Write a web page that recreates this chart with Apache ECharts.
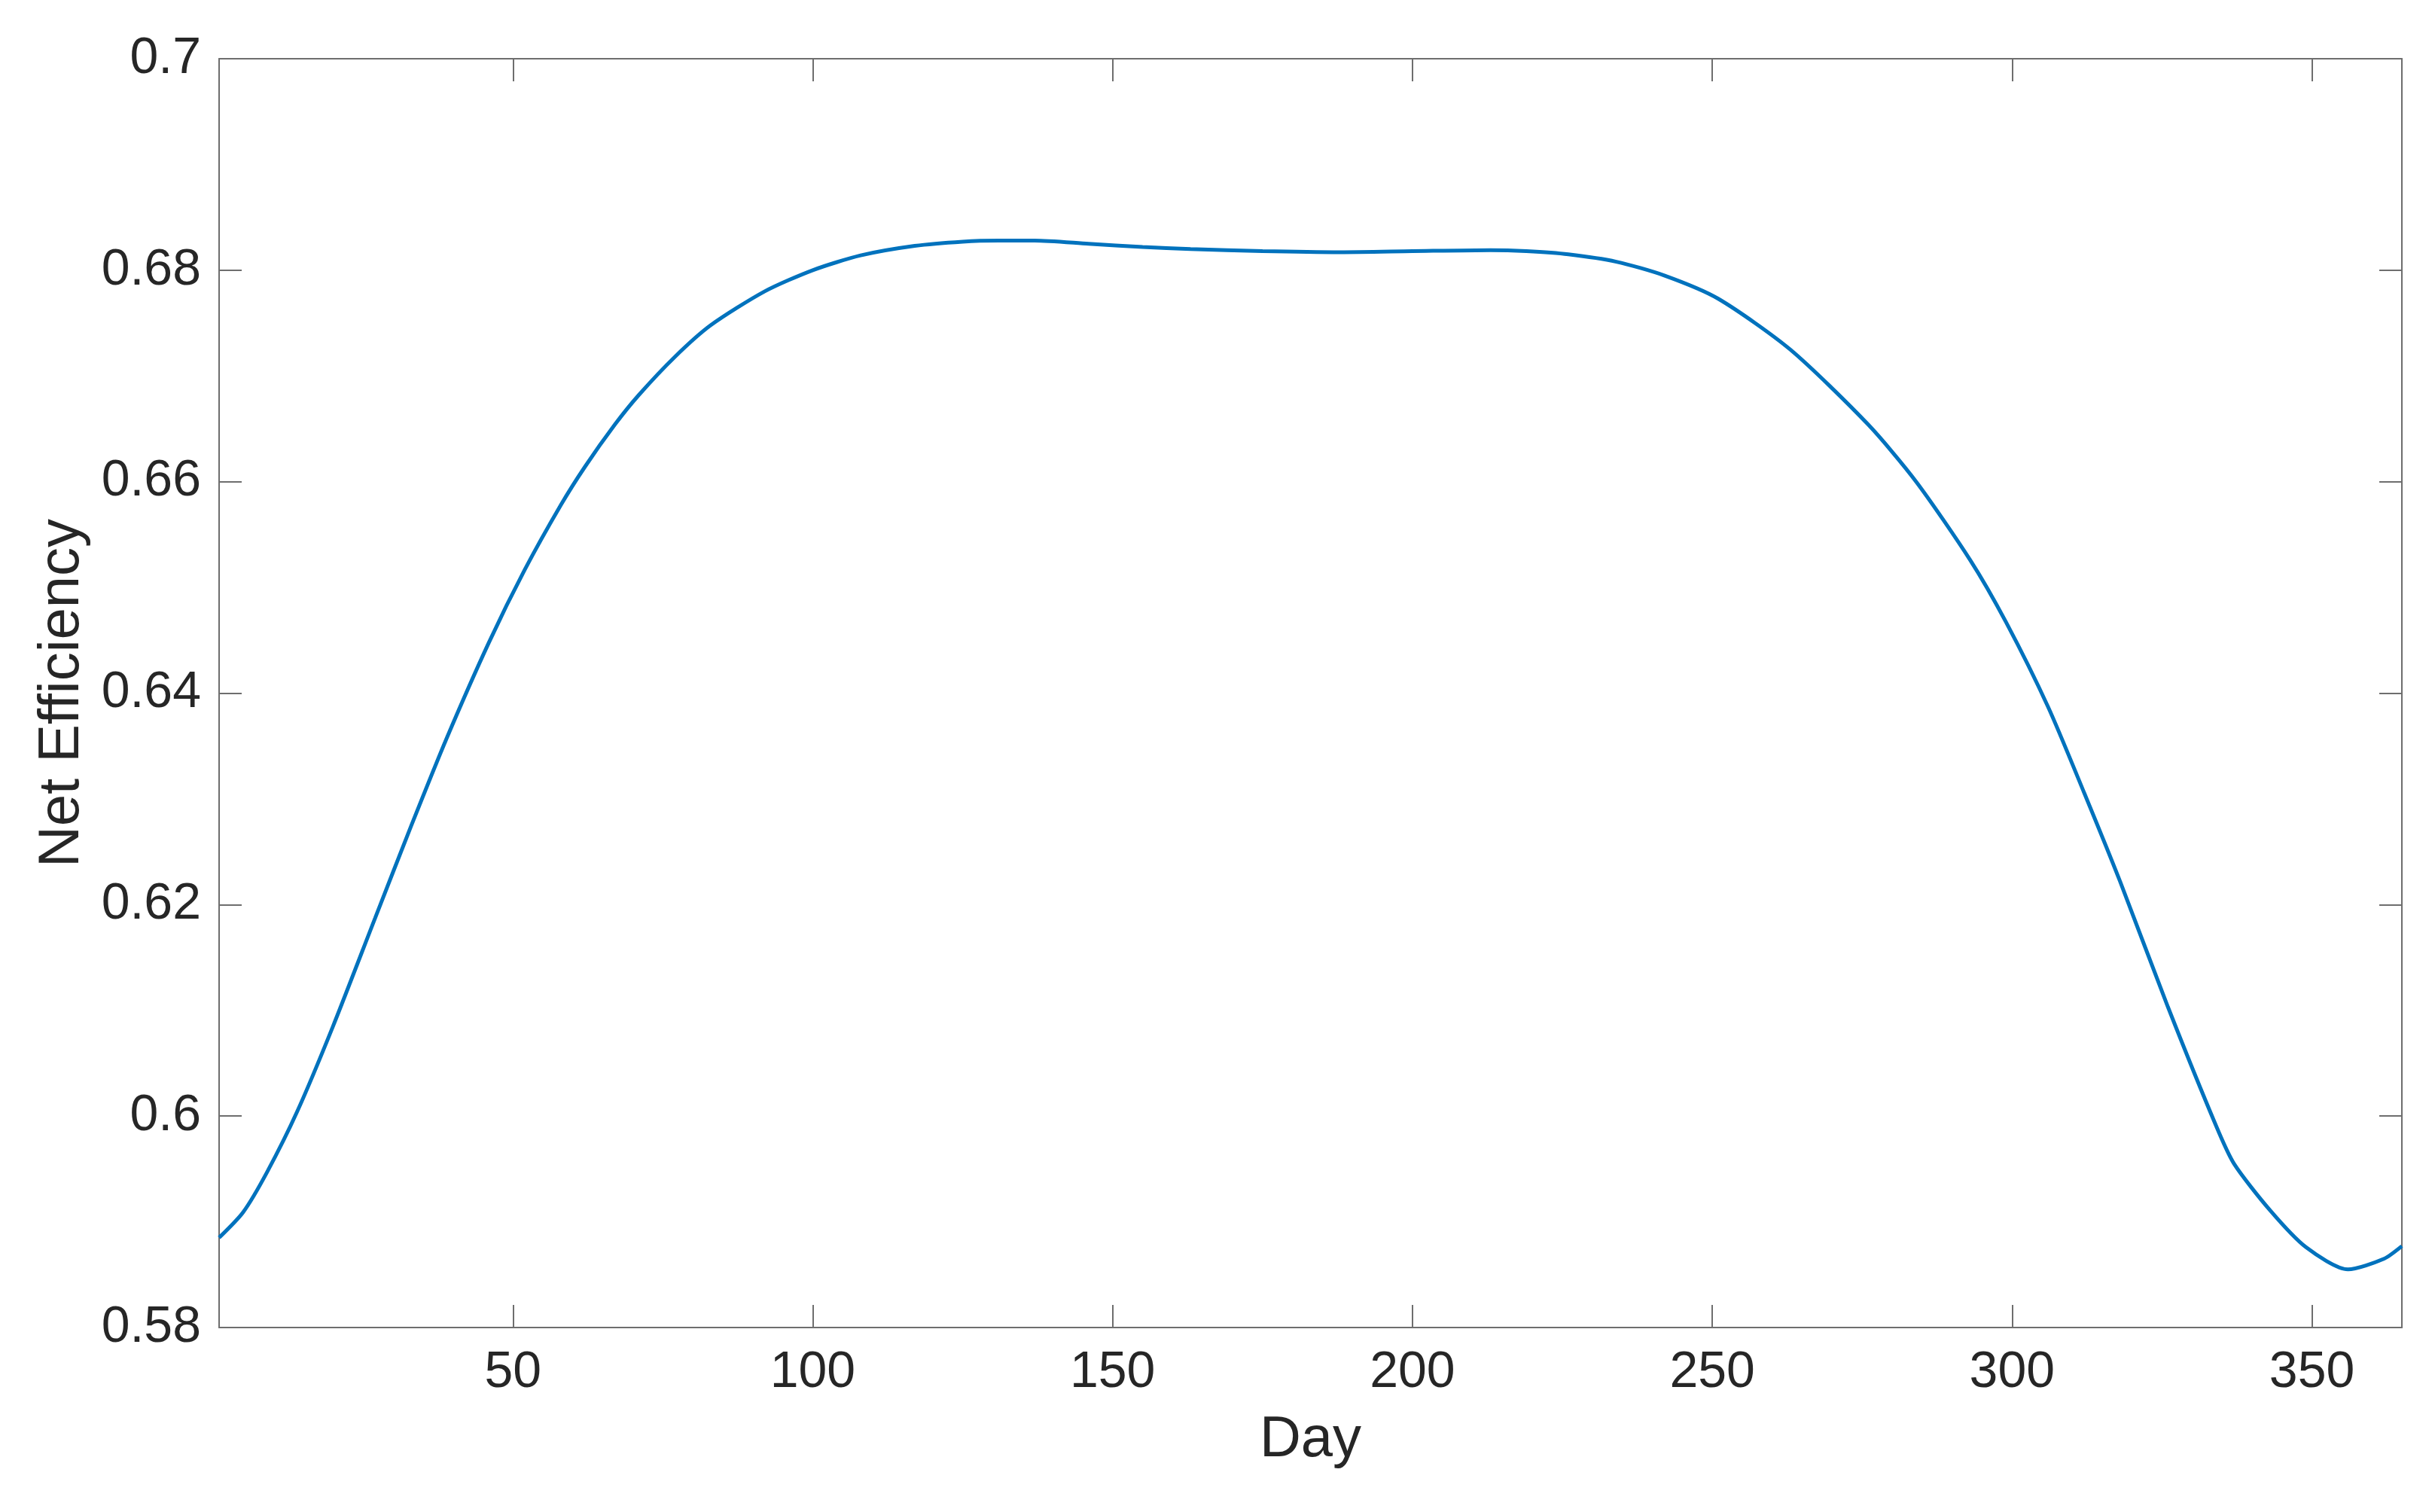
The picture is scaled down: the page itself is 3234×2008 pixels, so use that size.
<!DOCTYPE html>
<html>
<head>
<meta charset="utf-8">
<script src="https://cdn.jsdelivr.net/npm/echarts@6/dist/echarts.min.js"></script>
<style>
html,body{margin:0;padding:0;background:#fff;}
#chart{width:3234px;height:2008px;}
</style>
</head>
<body>
<div id="chart"></div>
<script>
const days = [1,5,9,14,20,27,33,39,46,52,58,62,67,71,77,83,92,100,108,117,125,131,137,146,155,163,175,188,200,213,219,226,234,242,251,263,276,284,293,299,306,312,318,326,334,337,343,349,356,362,365];
const efficiency = [0.5885,0.5909,0.5947,0.6004,0.6085,0.6187,0.6274,0.6358,0.6448,0.6517,0.6578,0.6614,0.6654,0.6682,0.6718,0.6748,0.6780,0.6800,0.6814,0.6823,0.6827,0.6828,0.6828,0.6825,0.6822,0.6820,0.6818,0.6817,0.6818,0.6819,0.6818,0.6815,0.6808,0.6795,0.6773,0.6725,0.6654,0.6600,0.6526,0.6467,0.6387,0.6306,0.6222,0.6103,0.5991,0.5955,0.5911,0.5876,0.5855,0.5865,0.5877];
const xTicks = [50,100,150,200,250,300,350];
const yTicks = [0.58,0.6,0.62,0.64,0.66,0.68,0.7];
const xName = 'Day';
const yName = 'Net Efficiency';

const FONT = "'Liberation Sans', Arial, sans-serif";
const TXT = '#262626';
const AX = '#6e6e6e';

const chart = echarts.init(document.getElementById('chart'), null, {renderer:'canvas'});
const xBase = {
  type:'value', min:1, max:365,
  axisLine:{show:true, onZero:false, lineStyle:{color:AX, width:2}},
  axisTick:{show:true, inside:true, length:30, customValues:xTicks, lineStyle:{color:AX, width:2}},
  splitLine:{show:false}
};
const yBase = {
  type:'value', min:0.58, max:0.7,
  axisLine:{show:true, onZero:false, lineStyle:{color:AX, width:2}},
  axisTick:{show:true, inside:true, length:30, customValues:yTicks, lineStyle:{color:AX, width:2}},
  splitLine:{show:false}
};
chart.setOption({
  animation:false,
  backgroundColor:'#fff',
  grid:{left:291, right:44, top:78, bottom:245, containLabel:false},
  xAxis:[
    Object.assign({}, xBase, {
      position:'bottom',
      name:xName, nameLocation:'middle', nameGap:112,
      nameTextStyle:{fontFamily:FONT, fontSize:76, color:TXT},
      axisLabel:{show:true, customValues:xTicks, margin:26, fontFamily:FONT, fontSize:68, color:TXT}
    }),
    Object.assign({}, xBase, {position:'top', axisLabel:{show:false}})
  ],
  yAxis:[
    Object.assign({}, yBase, {
      position:'left',
      name:yName, nameLocation:'middle', nameGap:170,
      nameTextStyle:{fontFamily:FONT, fontSize:76, color:TXT},
      axisLabel:{show:true, customValues:yTicks, margin:24, fontFamily:FONT, fontSize:68, color:TXT}
    }),
    Object.assign({}, yBase, {position:'right', axisLabel:{show:false}})
  ],
  series:[{
    type:'line',
    data:days.map((d,i)=>[d, efficiency[i]]),
    smooth:0.25,
    showSymbol:false,
    lineStyle:{color:'#0072BD', width:5},
    clip:true
  }]
});
</script>
</body>
</html>
